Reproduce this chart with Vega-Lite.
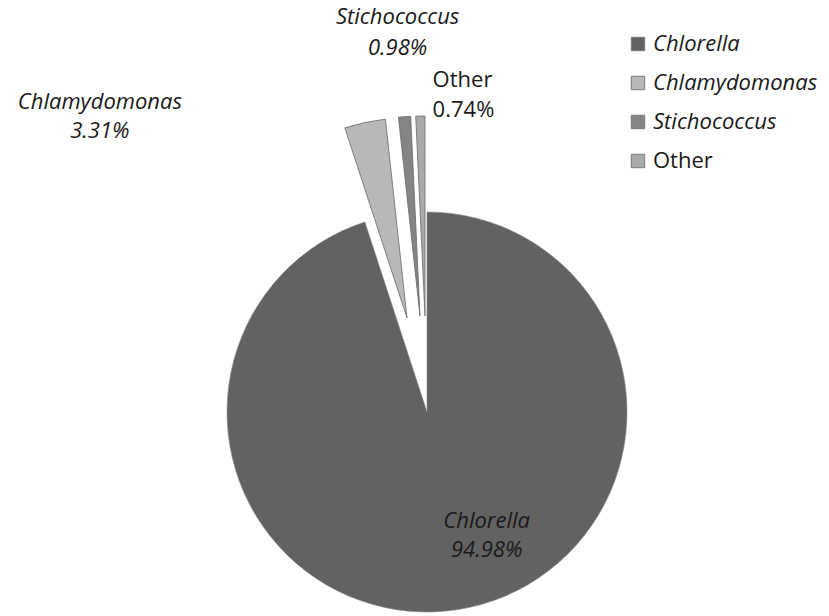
{
  "$schema": "https://vega.github.io/schema/vega-lite/v6.json",
  "width": 400,
  "height": 400,
  "autosize": {"type": "none"},
  "padding": {"left": 227, "top": 212, "right": 202, "bottom": 4},
  "background": "white",
  "config": {"view": {"stroke": null}, "font": "Open Sans"},
  "data": {
    "values": [
      {"genus": "Chlorella", "share": 94.98, "order": 1, "label": "Chlorella\n94.98%"},
      {"genus": "Chlamydomonas", "share": 3.31, "order": 2, "label": "Chlamydomonas\n3.31%"},
      {"genus": "Stichococcus", "share": 0.98, "order": 3, "label": "Stichococcus\n0.98%"},
      {"genus": "Other", "share": 0.74, "order": 4, "label": "Other\n0.74%"}
    ]
  },
  "encoding": {
    "theta": {"field": "share", "type": "quantitative", "stack": true},
    "order": {"field": "order", "type": "quantitative"},
    "color": {
      "field": "genus",
      "type": "nominal",
      "scale": {
        "domain": ["Chlorella", "Chlamydomonas", "Stichococcus", "Other"],
        "range": ["#626262", "#b8b8b8", "#848484", "#a9a9a9"]
      },
      "legend": {
        "orient": "none",
        "legendX": 400,
        "legendY": -179,
        "title": null,
        "symbolType": "square",
        "symbolSize": 180,
        "symbolStrokeColor": "#7a7a7a",
        "symbolStrokeWidth": 1,
        "symbolOpacity": 1,
        "labelFontSize": 22,
        "labelFont": "Open Sans",
        "labelColor": "#1a1a1a",
        "labelOffset": 4,
        "rowPadding": 17,
        "labelLimit": 300,
        "encode": {
          "labels": {"update": {"fontStyle": {"signal": "datum.label === 'Other' ? 'normal' : 'italic'"}}}
        }
      }
    }
  },
  "layer": [
    {
      "mark": {"type": "arc", "stroke": "#8a8a8a", "strokeWidth": 0.6},
      "encoding": {"opacity": {"condition": {"test": "datum.genus === 'Chlorella'", "value": 1}, "value": 0}}
    },
    {
      "mark": {"type": "arc", "stroke": "#6a6a6a", "strokeWidth": 0.8, "xOffset": -20, "yOffset": -94},
      "encoding": {"opacity": {"condition": {"test": "datum.genus === 'Chlamydomonas'", "value": 1}, "value": 0}}
    },
    {
      "mark": {"type": "arc", "stroke": "#6a6a6a", "strokeWidth": 0.8, "xOffset": -7, "yOffset": -96},
      "encoding": {"opacity": {"condition": {"test": "datum.genus === 'Stichococcus'", "value": 1}, "value": 0}}
    },
    {
      "mark": {"type": "arc", "stroke": "#6a6a6a", "strokeWidth": 0.8, "xOffset": -2, "yOffset": -96},
      "encoding": {"opacity": {"condition": {"test": "datum.genus === 'Other'", "value": 1}, "value": 0}}
    },
    {
      "mark": {"type": "text", "radius": 125, "dx": 40, "dy": -14, "fontSize": 22, "fontStyle": "italic", "lineBreak": "\n", "lineHeight": 29, "align": "center", "baseline": "middle"},
      "encoding": {
        "text": {"field": "label"},
        "color": {"value": "#1a1a1a"},
        "opacity": {"condition": {"test": "datum.genus === 'Chlorella'", "value": 1}, "value": 0}
      }
    },
    {
      "mark": {"type": "text", "radius": 300, "dx": -264, "dy": -17, "fontSize": 22, "fontStyle": "italic", "lineBreak": "\n", "lineHeight": 29, "align": "center", "baseline": "middle"},
      "encoding": {
        "text": {"field": "label"},
        "color": {"value": "#1a1a1a"},
        "opacity": {"condition": {"test": "datum.genus === 'Chlamydomonas'", "value": 1}, "value": 0}
      }
    },
    {
      "mark": {"type": "text", "radius": 380, "dx": 0, "dy": -16, "fontSize": 22, "fontStyle": "italic", "lineBreak": "\n", "lineHeight": 31, "align": "center", "baseline": "middle"},
      "encoding": {
        "text": {"field": "label"},
        "color": {"value": "#1a1a1a"},
        "opacity": {"condition": {"test": "datum.genus === 'Stichococcus'", "value": 1}, "value": 0}
      }
    },
    {
      "mark": {"type": "text", "radius": 318, "dx": 13, "dy": -14, "fontSize": 22, "fontStyle": "normal", "lineBreak": "\n", "lineHeight": 30, "align": "left", "baseline": "middle"},
      "encoding": {
        "text": {"field": "label"},
        "color": {"value": "#1a1a1a"},
        "opacity": {"condition": {"test": "datum.genus === 'Other'", "value": 1}, "value": 0}
      }
    }
  ]
}
